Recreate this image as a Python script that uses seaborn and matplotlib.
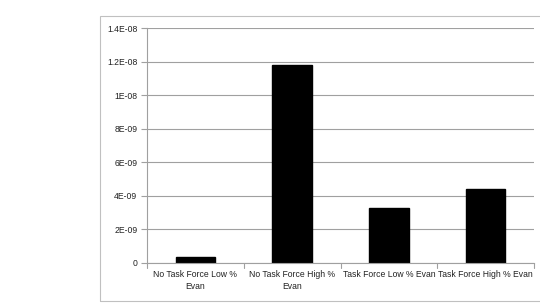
import matplotlib
matplotlib.use("Agg")
import matplotlib.pyplot as plt
import seaborn as sns
import pandas as pd
from matplotlib.patches import Rectangle

categories = ["No Task Force Low %\nEvan", "No Task Force High %\nEvan",
              "Task Force Low % Evan", "Task Force High % Evan"]
values = [3.8e-10, 1.18e-8, 3.25e-9, 4.4e-9]
ytick_vals = [0, 2e-9, 4e-9, 6e-9, 8e-9, 1e-8, 1.2e-8, 1.4e-8]
ytick_labels = ["0", "2E-09", "4E-09", "6E-09", "8E-09", "1E-08", "1.2E-08", "1.4E-08"]

df = pd.DataFrame({"cat": categories, "val": values})

sns.set_style("white")
plt.rcParams['font.family'] = ['Liberation Sans', 'DejaVu Sans']

W, H = 540, 307
fig = plt.figure(figsize=(W / 100, H / 100), dpi=100)
ax = fig.add_axes([147 / W, 1 - 263 / H, (534 - 147) / W, (263 - 28) / H])

sns.barplot(data=df, x="cat", y="val", color="black", width=0.41,
            saturation=1, ax=ax, edgecolor="black")

ax.set_ylim(0, 1.4e-8)
ax.set_xlim(-0.5, 3.5)
ax.set_yticks(ytick_vals)
ax.set_yticklabels(ytick_labels, fontsize=6.2, color="#222222")
ax.set_xticks(range(4))
ax.set_xticklabels(categories, fontsize=6.2, linespacing=1.4, color="#222222")
ax.tick_params(axis="x", length=0, pad=5)
ax.tick_params(axis="y", length=4, color="#a0a0a0", pad=3, left=True)
for t in [-0.5, 0.5, 1.5, 2.5, 3.5]:
    ax.plot([t, t], [0, -0.02], transform=ax.get_xaxis_transform(),
            color="#a0a0a0", lw=0.8, clip_on=False)
ax.yaxis.grid(True, color="#a0a0a0", lw=0.8)
ax.set_axisbelow(True)
ax.set_xlabel("")
ax.set_ylabel("")
for s in ["top", "right"]:
    ax.spines[s].set_visible(False)
for s in ["left", "bottom"]:
    ax.spines[s].set_color("#a0a0a0")
    ax.spines[s].set_linewidth(0.8)

fig.patches.append(Rectangle((100 / W, 1 - 301 / H), 460 / W, (301 - 16) / H,
                             transform=fig.transFigure, fill=False,
                             edgecolor="#c0c0c0", lw=0.8))

fig.savefig("out.png", dpi=100)
